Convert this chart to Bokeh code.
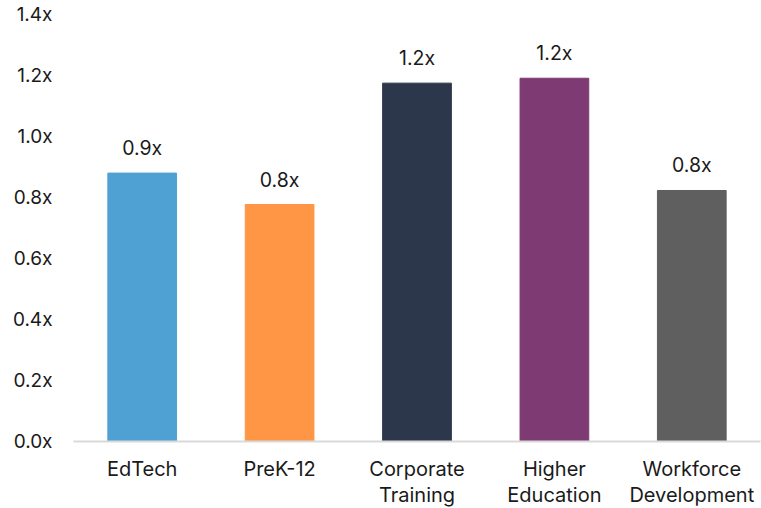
from bokeh.plotting import figure
from bokeh.models import ColumnDataSource, FixedTicker, PrintfTickFormatter
from bokeh.core.properties import value
from bokeh.embed import file_html
from bokeh.resources import INLINE

categories = ["EdTech", "PreK-12", "Corporate\nTraining", "Higher\nEducation", "Workforce\nDevelopment"]
values = [0.88, 0.777, 1.175, 1.191, 0.823]
colors = ["#4FA1D3", "#FF9646", "#2C374B", "#7E3A72", "#5F5F5F"]
labels = [f"{v:.1f}x" for v in values]
y_ticks = [0.0, 0.2, 0.4, 0.6, 0.8, 1.0, 1.2, 1.4]

FONT = "Inter"
FS = "19px"
TXT = "#1a1a1a"

src = ColumnDataSource(dict(cat=categories, val=values, color=colors, label=labels))

p = figure(x_range=categories, y_range=(0, 1.4),
           frame_width=687, frame_height=427,
           output_backend="svg", toolbar_location=None,
           min_border_left=73, min_border_right=1, min_border_top=14, min_border_bottom=0)
p.outline_line_color = None
p.background_fill_color = "white"

p.vbar(x="cat", top="val", width=0.5, color="color", source=src)
p.text(x="cat", y="val", text="label", source=src, text_align="center",
       text_baseline="alphabetic", y_offset=-25, text_font=value(FONT),
       text_font_size="19.5px", text_color=TXT)

p.xgrid.grid_line_color = None
p.ygrid.grid_line_color = None

p.yaxis.ticker = FixedTicker(ticks=y_ticks)
p.yaxis.formatter = PrintfTickFormatter(format="%.1fx")
p.yaxis.axis_line_color = None
p.yaxis.major_tick_line_color = None
p.yaxis.minor_tick_line_color = None
p.yaxis.major_tick_out = 0
p.yaxis.major_tick_in = 0
p.yaxis.minor_tick_out = 0
p.yaxis.major_label_text_font = FONT
p.yaxis.major_label_text_font_size = FS
p.yaxis.major_label_text_color = TXT
p.yaxis.major_label_standoff = 21

p.xaxis.axis_line_color = "#D9D9D9"
p.xaxis.axis_line_width = 2
p.xaxis.major_tick_line_color = None
p.xaxis.minor_tick_line_color = None
p.xaxis.major_tick_out = 0
p.xaxis.major_tick_in = 0
p.xaxis.minor_tick_out = 0
p.xaxis.major_label_text_font = FONT
p.xaxis.major_label_text_font_size = "20px"
p.xaxis.major_label_text_color = TXT
p.xaxis.major_label_text_line_height = 1.1
p.xaxis.major_label_standoff = 15

open("out.html", "w").write(file_html(p, INLINE))
